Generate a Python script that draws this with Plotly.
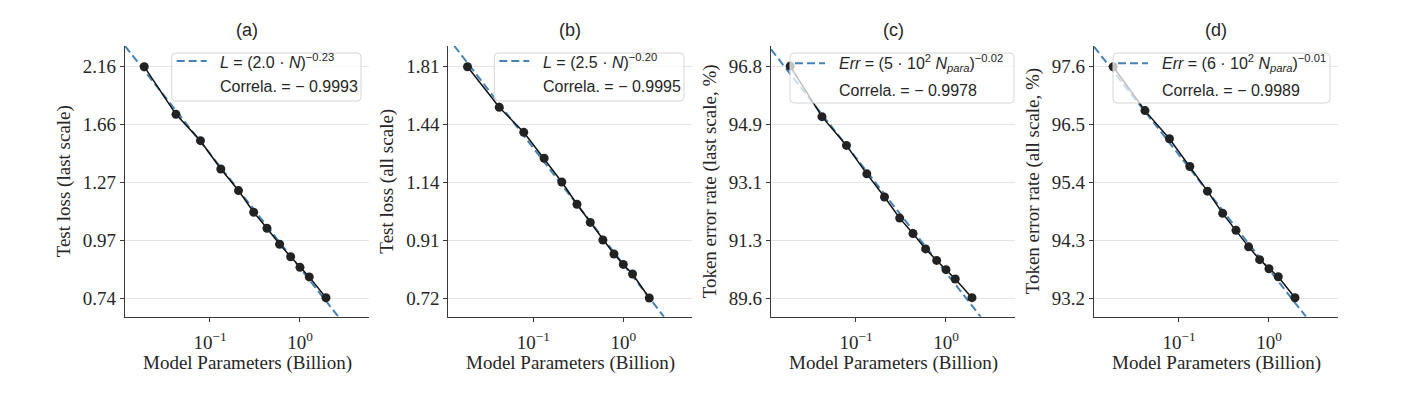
import numpy as np
import plotly.graph_objects as go

# ---------------- data ----------------
params_b = [0.0186, 0.0419, 0.0784, 0.132, 0.2075, 0.306, 0.430, 0.594, 0.788, 1.0, 1.268, 1.945]

loss_last = [2.16, 1.733, 1.534, 1.346, 1.218, 1.102, 1.023, 0.950, 0.897, 0.854, 0.817, 0.742]
loss_all = [1.81, 1.540, 1.394, 1.257, 1.144, 1.047, 0.974, 0.908, 0.859, 0.824, 0.793, 0.721]
err_last = [96.82, 95.20, 94.29, 93.40, 92.68, 92.03, 91.56, 91.09, 90.74, 90.46, 90.18, 89.62]
err_all = [97.6, 96.75, 96.21, 95.68, 95.21, 94.79, 94.47, 94.16, 93.92, 93.75, 93.60, 93.21]

# visible ends of the dashed fit lines
fit_a_x = [0.01138, 2.667]
fit_a_y = [2.377, 0.6797]
fit_b_x = [0.01327, 2.833]
fit_b_y = [1.966, 0.669]
fit_c_x = [0.01138, 2.431]
fit_c_y = [97.36, 89.05]
fit_d_x = [0.01138, 2.577]
fit_d_y = [97.99, 92.86]

ytick_a = [0.74, 0.97, 1.27, 1.66, 2.16]
ytick_b = [0.72, 0.91, 1.14, 1.44, 1.81]
ytick_c = [89.6, 91.3, 93.1, 94.9, 96.8]
ytick_d = [93.2, 94.3, 95.4, 96.5, 97.6]

xtick_vals = [0.1, 1.0]
xtick_text = ["10<sup>\u22121</sup>", "10<sup>0</sup>"]

panel_titles = ["(a)", "(b)", "(c)", "(d)"]
y_titles = ["Test loss (last scale)", "Test loss (all scale)",
            "Token error rate (last scale, %)", "Token error rate (all scale, %)"]
x_title = "Model Parameters (Billion)"

fit_labels = [
    "<i>L</i> = (2.0 \u00b7 <i>N</i>)<sup>\u22120.23</sup>",
    "<i>L</i> = (2.5 \u00b7 <i>N</i>)<sup>\u22120.20</sup>",
    "<i>Err</i> = (5 \u00b7 10<sup>2</sup> <i>N</i><sub><i>para</i></sub>)<sup>\u22120.02</sup>",
    "<i>Err</i> = (6 \u00b7 10<sup>2</sup> <i>N</i><sub><i>para</i></sub>)<sup>\u22120.01</sup>",
]
corr_labels = ["Correla. = \u2212 0.9993", "Correla. = \u2212 0.9995",
               "Correla. = \u2212 0.9978", "Correla. = \u2212 0.9989"]

# ---------------- layout constants (pixel positions in the 1419x395 page) ----------------
OFF = 8                      # default page body margin
W, H = 1419 - OFF, 395 - OFF


def px(x):
    return (x - OFF) / W


def py(y):
    return 1 - (y - OFF) / H


axis_left = [125, 448.3, 771, 1094]
axis_w = 244
top_px, bot_px = 46, 316.7
tick_hi_px, tick_lo_px = 66.7, 298.3
leg_box = [(171.7, 361, 53, 101), (494.3, 684, 53, 101), (790, 1014, 53, 103), (1113, 1330, 53, 103)]
leg_rows = [(61, 86.7), (61, 86.7), (63.3, 90), (63.3, 90)]

TEXT = "#262626"
BLUE = "#4682b4"
SERIF = "Liberation Serif, Times New Roman, serif"
SANS = "Liberation Sans, Arial, sans-serif"

series = [loss_last, loss_all, err_last, err_all]
fits = [(fit_a_x, fit_a_y), (fit_b_x, fit_b_y), (fit_c_x, fit_c_y), (fit_d_x, fit_d_y)]
yticks = [ytick_a, ytick_b, ytick_c, ytick_d]


def rounded_rect(x0, x1, y0, y1, r=4):
    X0, X1, Y0, Y1 = px(x0), px(x1), py(y0), py(y1)
    rx, ry = r / W, r / H
    return (f"M {X0 + rx},{Y0} L {X1 - rx},{Y0} Q {X1},{Y0} {X1},{Y0 - ry} "
            f"L {X1},{Y1 + ry} Q {X1},{Y1} {X1 - rx},{Y1} L {X0 + rx},{Y1} "
            f"Q {X0},{Y1} {X0},{Y1 + ry} L {X0},{Y0 - ry} Q {X0},{Y0} {X0 + rx},{Y0} Z")


fig = go.Figure()
layout = dict(
    width=W, height=H,
    margin=dict(l=0, r=0, t=0, b=0),
    paper_bgcolor="white", plot_bgcolor="white",
    showlegend=False,
    annotations=[], shapes=[],
)

for i in range(4):
    sfx = "" if i == 0 else str(i + 1)
    xa, ya = "x" + sfx, "y" + sfx
    fx, fy = fits[i]
    fig.add_trace(go.Scatter(
        x=fx, y=fy, mode="lines", xaxis=xa, yaxis=ya,
        line=dict(color=BLUE, width=2, dash="8px,4px"),
        name="fit", hoverinfo="skip"))
    fig.add_trace(go.Scatter(
        x=params_b, y=series[i], mode="lines+markers", xaxis=xa, yaxis=ya,
        line=dict(color="#111111", width=1.5),
        marker=dict(color="#222222", size=9),
        name="data"))

    tv = yticks[i]
    lo, hi = np.log10(tv[0]), np.log10(tv[-1])
    k = (hi - lo) / (tick_lo_px - tick_hi_px)
    yr = [lo - (bot_px - tick_lo_px) * k, hi + (tick_hi_px - top_px) * k]
    tickpos = np.geomspace(tv[0], tv[-1], len(tv))

    layout["xaxis" + sfx] = dict(
        domain=[px(axis_left[i]), px(axis_left[i] + axis_w)], type="log", range=[-1.944, 0.767],
        anchor=ya, showgrid=False, zeroline=False,
        showline=True, linecolor="#3a3a3a", linewidth=1.2,
        ticks="outside", ticklen=4, tickcolor="#3a3a3a", tickwidth=1.2,
        ticklabelstandoff=4,
        tickvals=xtick_vals, ticktext=xtick_text,
        tickfont=dict(family=SERIF, size=19, color=TEXT),
    )
    layout["yaxis" + sfx] = dict(
        domain=[py(bot_px), py(top_px)], type="log", range=yr,
        anchor=xa, showgrid=True, gridcolor="#e5e5e5", gridwidth=1,
        zeroline=False, showline=True, linecolor="#3a3a3a", linewidth=1.2,
        ticks="outside", ticklen=4, tickcolor="#3a3a3a", tickwidth=1.2,
        tickvals=list(tickpos), ticktext=[f"{v:g}" if i >= 2 else f"{v:.2f}" for v in tv],
        tickfont=dict(family=SERIF, size=19, color=TEXT),
    )

    # legend box (drawn above the data, semi-transparent like matplotlib)
    bx0, bx1, by0, by1 = leg_box[i]
    r1, r2 = leg_rows[i]
    layout["shapes"].append(dict(
        type="path", path=rounded_rect(bx0, bx1, by0, by1), xref="paper", yref="paper",
        fillcolor="rgba(255,255,255,0.72)", line=dict(color="#d6d6d6", width=1), layer="above"))
    layout["shapes"].append(dict(
        type="line", xref="paper", yref="paper",
        x0=px(bx0 + 5), x1=px(bx0 + 35), y0=py(r1), y1=py(r1),
        line=dict(color=BLUE, width=2, dash="8px,4px"), layer="above"))
    layout["annotations"].append(dict(
        text=fit_labels[i], x=px(bx0 + 46.5), y=py(r1), xref="paper", yref="paper",
        xanchor="left", yanchor="middle", showarrow=False,
        font=dict(family=SANS, size=16, color=TEXT)))
    layout["annotations"].append(dict(
        text=corr_labels[i], x=px(bx0 + 46.5), y=py(r2), xref="paper", yref="paper",
        xanchor="left", yanchor="middle", showarrow=False,
        font=dict(family=SANS, size=16, color=TEXT)))

    cx = px(axis_left[i] + axis_w / 2)
    layout["annotations"].append(dict(
        text=panel_titles[i], x=cx, y=py(30), xref="paper", yref="paper",
        xanchor="center", yanchor="middle", showarrow=False,
        font=dict(family=SANS, size=18, color=TEXT)))
    layout["annotations"].append(dict(
        text=x_title, x=cx, y=py(363), xref="paper", yref="paper",
        xanchor="center", yanchor="middle", showarrow=False,
        font=dict(family=SERIF, size=19, color=TEXT)))
    layout["annotations"].append(dict(
        text=y_titles[i], x=px(axis_left[i] - 61), y=py((top_px + bot_px) / 2),
        xref="paper", yref="paper", xanchor="center", yanchor="middle",
        textangle=-90, showarrow=False,
        font=dict(family=SERIF, size=19, color=TEXT)))

fig.update_layout(**layout)
fig.write_html("out.html")
